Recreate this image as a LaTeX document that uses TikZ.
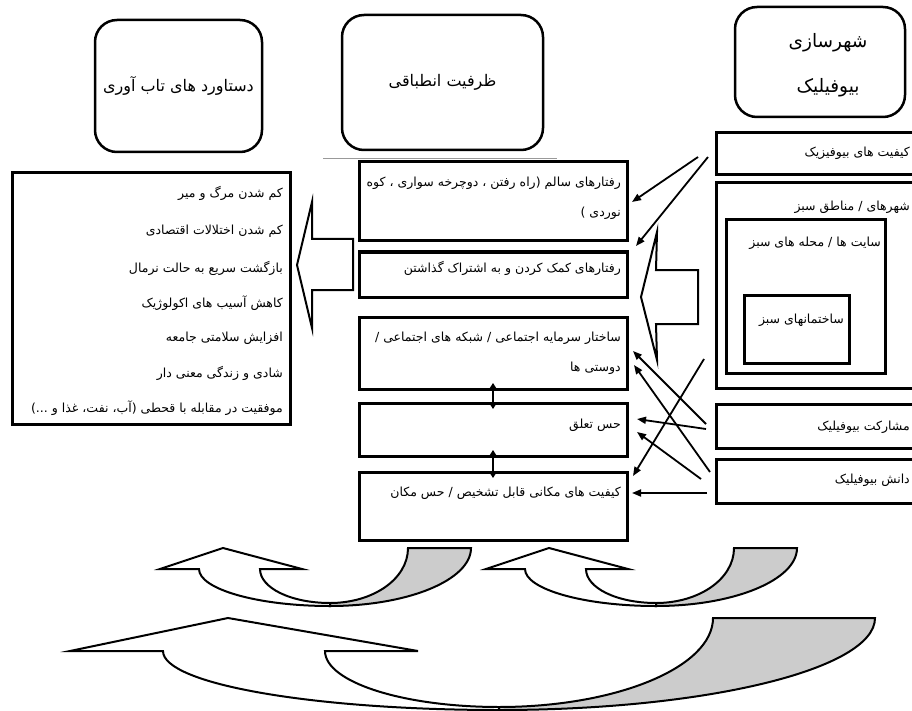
\documentclass[tikz,border=0pt]{standalone}
\usepackage{fontspec}
\usetikzlibrary{arrows.meta}
\newfontfamily\fafont[Script=Arabic]{DejaVu Sans}
\TeXXeTstate=1
\newcommand{\fatxt}[1]{{\fafont\beginR #1\endR}}
\begin{document}
\begin{tikzpicture}[x=1pt,y=-1pt,
  hbox/.style={draw, line width=2.5pt, rounded corners=22pt, inner sep=0pt, outer sep=0pt, anchor=north west},
  sbox/.style={draw, line width=3pt, inner sep=0pt, outer sep=0pt, anchor=north west},
  btxt/.style={inner sep=0pt, font=\fontsize{12.5}{15}\selectfont, anchor=east},
  htxt/.style={inner sep=0pt, font=\fontsize{16}{19}\selectfont},
  link/.style={line width=1.8pt, -{Triangle[length=9pt,width=7pt]}},
  dbl/.style={line width=2pt, {Triangle[length=5pt,width=6pt]}-{Triangle[length=5pt,width=6pt]}},
  blk/.style={draw, line width=2pt, fill=white, line join=miter},
  tailfill/.style={draw, line width=2pt, fill=black!20, line join=miter},
]
\fill[white] (0,0) rectangle (912,711);
\clip (0,0) rectangle (912,711);

% top header boxes
\node[hbox, minimum width=167pt, minimum height=132pt] (A) at (95,20) {};
\node[hbox, minimum width=201pt, minimum height=135pt] (B) at (342,15) {};
\node[hbox, minimum width=170pt, minimum height=110pt] (C) at (735,7) {};
\node[htxt] (At) at (A.center) {\fatxt{دستاورد های تاب آوری}};
\node[htxt] (Bt) at (B.center) {\fatxt{ظرفیت انطباقی}};
\node[htxt, font=\fontsize{18.5}{22}\selectfont] (Ct1) at (828,43) {\fatxt{شهرسازی}};
\node[htxt, font=\fontsize{18.5}{22}\selectfont] (Ct2) at (828,88) {\fatxt{بیوفیلیک}};
\draw[black!40, line width=1pt] (323,159) -- (557,159);

% left outcomes box
\node[sbox, minimum width=278pt, minimum height=251pt] (L) at (12,173) {};
\node[btxt] (L1) at (283,193) {\fatxt{کم شدن مرگ و میر}};
\node[btxt] (L2) at (283,231) {\fatxt{کم شدن اختلالات اقتصادی}};
\node[btxt] (L3) at (283,268) {\fatxt{بازگشت سریع به حالت نرمال}};
\node[btxt] (L4) at (283,303) {\fatxt{کاهش آسیب های اکولوژیک}};
\node[btxt] (L5) at (283,338) {\fatxt{افزایش سلامتی جامعه}};
\node[btxt] (L6) at (283,373) {\fatxt{شادی و زندگی معنی دار}};
\node[btxt] (L7) at (283,408) {\fatxt{موفقیت در مقابله با قحطی (آب، نفت، غذا و ...)}};

% middle boxes
\node[sbox, minimum width=268pt, minimum height=79pt] (m1) at (359,162) {};
\node[sbox, minimum width=268pt, minimum height=45pt] (m2) at (359,252) {};
\node[sbox, minimum width=268pt, minimum height=72pt] (m3) at (359,317) {};
\node[sbox, minimum width=268pt, minimum height=53pt] (m4) at (359,403) {};
\node[sbox, minimum width=268pt, minimum height=68pt] (m5) at (359,472) {};
\node[btxt] (m1a) at (621,183) {\fatxt{رفتارهای سالم (راه رفتن ، دوچرخه سواری ، کوه}};
\node[btxt] (m1b) at (621,213) {\fatxt{نوردی )}};
\node[btxt] (m2a) at (621,268) {\fatxt{رفتارهای کمک کردن و به اشتراک گذاشتن}};
\node[btxt] (m3a) at (621,338) {\fatxt{ساختار سرمایه اجتماعی / شبکه های اجتماعی /}};
\node[btxt] (m3b) at (621,368) {\fatxt{دوستی ها}};
\node[btxt] (m4a) at (621,425) {\fatxt{حس تعلق}};
\node[btxt] (m5a) at (621,493) {\fatxt{کیفیت های مکانی قابل تشخیص / حس مکان}};
\draw[dbl] ([yshift=6pt]m3.south) -- ([yshift=-6pt]m4.north);
\draw[dbl] ([yshift=6pt]m4.south) -- ([yshift=-6pt]m5.north);

% right boxes
\node[sbox, minimum width=230pt, minimum height=42pt] (r1) at (716,133) {};
\node[sbox, minimum width=230pt, minimum height=205pt] (r2) at (716,183) {};
\node[sbox, minimum width=159pt, minimum height=153pt] (r2a) at (726,220) {};
\node[sbox, minimum width=105pt, minimum height=68pt] (r2b) at (744,295) {};
\node[sbox, minimum width=230pt, minimum height=44pt] (r3) at (716,404) {};
\node[sbox, minimum width=230pt, minimum height=44pt] (r4) at (716,459) {};
\node[btxt] (r1t) at (910,153) {\fatxt{کیفیت های بیوفیزیک}};
\node[btxt] (r2t) at (910,207) {\fatxt{شهرهای / مناطق سبز}};
\node[btxt] (r2at) at (881,243) {\fatxt{سایت ها / محله های سبز}};
\node[btxt] (r2bt) at (844,320) {\fatxt{ساختمانهای سبز}};
\node[btxt] (r3t) at (910,427) {\fatxt{مشارکت بیوفیلیک}};
\node[btxt] (r4t) at (910,480) {\fatxt{دانش بیوفیلیک}};

% block arrows
\draw[blk] (297,265) -- (312,202) -- (312,239) -- (353,239) -- (353,290) -- (312,290) -- (312,328) -- cycle;
\draw[blk] (641,297) -- (657,232) -- (656,270) -- (698,270) -- (698,324) -- (656,324) -- (657,360) -- cycle;

% thin arrows
\coordinate (s1) at (698,157); \coordinate (e1) at (632,202);
\coordinate (s2) at (708,157); \coordinate (e2) at (636,246);
\coordinate (s3) at (706,424); \coordinate (e3) at (633,351);
\coordinate (s4) at (710,472); \coordinate (e4) at (634,365);
\coordinate (s5) at (706,429); \coordinate (e5) at (637,419);
\coordinate (s6) at (701,479); \coordinate (e6) at (637,432);
\coordinate (s7) at (704,359); \coordinate (e7) at (633,476);
\coordinate (s8) at (707,493); \coordinate (e8) at (632,493);
\foreach \i in {1,...,8} \draw[link] (s\i) -- (e\i);

% curved arrows (small ones)
\foreach \dx in {0,326} {
\begin{scope}[xshift=\dx pt]
\draw[blk] (199,569) -- (160,569) -- (223,548) -- (302,569) -- (260,569)
  .. controls (260,588) and (291,603) .. (330,603) -- (330,606)
  .. controls (257,606) and (199,589) .. (199,569) -- cycle;
\draw[tailfill] (330,603) .. controls (373,603) and (408,579) .. (408,548) -- (471,548)
  .. controls (471,580) and (408,606) .. (330,606) -- cycle;
\end{scope}
}
% big curved arrow
\draw[blk] (163,651) -- (70,651) -- (228,618) -- (418,651) -- (325,651)
  .. controls (325,682) and (403,707) .. (499,707) -- (499,710)
  .. controls (313,710) and (163,684) .. (163,651) -- cycle;
\draw[tailfill] (499,707) .. controls (617,707) and (713,667) .. (713,618) -- (875,618)
  .. controls (875,669) and (707,710) .. (499,710) -- cycle;
\end{tikzpicture}
\end{document}
